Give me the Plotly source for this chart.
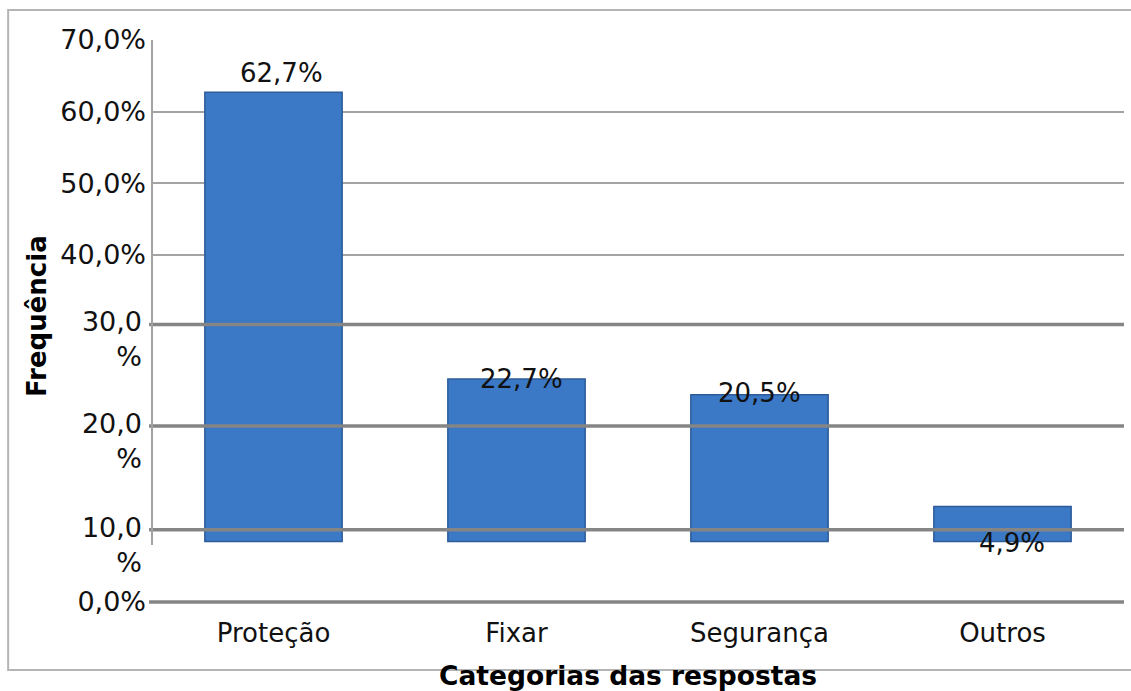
import plotly.graph_objects as go

categories = ["Proteção", "Fixar", "Segurança", "Outros"]
values = [62.7, 22.7, 20.5, 4.9]

# y-axis tick labels and where they sit on the (distorted) reference axis
tick_labels = ["0,0%", "10,0<br>%", "20,0<br>%", "30,0<br>%", "40,0%", "50,0%", "60,0%", "70,0%"]
tick_positions = [-8.44, 1.63, 16.13, 30.3, 40, 50, 60, 70]

# label offsets (pixels) matching the reference placement
label_yshift = [19, 0, 2, -37]
label_xshift = [8, 5, 0, 9]

FONT = "DejaVu Sans"
TICK_FONT = dict(family=FONT, size=27, color="#111111")

fig = go.Figure()
fig.add_trace(go.Bar(
    x=categories, y=values, width=0.565,
    marker=dict(color="#3b78c5", line=dict(color="#2d5c99", width=1.5)),
    hoverinfo="x+y",
))

single = [t if "<br>" not in t else "" for t in tick_labels]
multi_pos = [p for p, t in zip(tick_positions, tick_labels) if "<br>" in t]
multi_txt = [t for t in tick_labels if "<br>" in t]

fig.update_layout(
    width=1131, height=691,
    margin=dict(l=152, r=7, t=40, b=85),
    paper_bgcolor="white", plot_bgcolor="white",
    showlegend=False,
    font=dict(family=FONT, size=26, color="#111111"),
    bargap=0.435,
    xaxis=dict(
        showgrid=False, showline=False, zeroline=False, ticks="",
        tickfont=dict(family=FONT, size=26, color="#111111"),
        ticklabelstandoff=9,
    ),
    yaxis=dict(
        range=[-9, 70], tickmode="array", tickvals=tick_positions, ticktext=single,
        showgrid=True, gridcolor="#a3a3a3", gridwidth=2, zeroline=False,
        showline=False, ticks="", ticklabelstandoff=5,
        tickfont=TICK_FONT,
    ),
    yaxis2=dict(
        overlaying="y", side="left", anchor="x",
        range=[-9, 70], tickmode="array", tickvals=multi_pos, ticktext=multi_txt,
        showgrid=False, zeroline=False, showline=False, ticks="",
        ticklabelshift=15, ticklabelstandoff=9,
        tickfont=TICK_FONT,
    ),
)

# invisible trace attached to y2 so that axis renders
fig.add_trace(go.Scatter(x=categories, y=values, yaxis="y2", mode="none",
                         hoverinfo="skip", showlegend=False))

# thick grid lines drawn above bars for the lower ticks
for p, t in zip(tick_positions, tick_labels):
    if p < 35:
        fig.add_shape(type="line", xref="paper", yref="y", x0=-0.003, x1=1.0,
                      y0=p, y1=p, line=dict(color="#858585", width=3.5), layer="above")

# y axis line (from top down to bar baseline)
fig.add_shape(type="line", xref="paper", yref="y", x0=0, x1=0, y0=-0.5, y1=70,
              line=dict(color="#a3a3a3", width=2), layer="above")

# outer chart border
fig.add_shape(type="rect", xref="paper", yref="paper", x0=-0.148, x1=1.08,
              y0=-0.113, y1=1.053, line=dict(color="#b5b5b5", width=2), layer="below")

# data labels
for c, v, ys, xs in zip(categories, values, label_yshift, label_xshift):
    fig.add_annotation(x=c, y=v, text=f"{v:.1f}%".replace(".", ","), showarrow=False,
                       yshift=ys, xshift=xs, font=dict(family=FONT, size=26, color="#111111"))

# axis titles
fig.add_annotation(text="<b>Categorias das respostas</b>", xref="paper", yref="paper",
                   x=(628 - 152) / 972, y=-(675 - 606) / 566, showarrow=False,
                   font=dict(family=FONT, size=26.5, color="#000000"),
                   xanchor="center", yanchor="middle")
fig.add_annotation(text="<b>Frequência</b>", xref="paper", yref="paper",
                   x=-(152 - 37) / 972, y=(606 - 316) / 566, showarrow=False, textangle=-90,
                   font=dict(family=FONT, size=26, color="#000000"),
                   xanchor="center", yanchor="middle")

fig.write_html("out.html")
